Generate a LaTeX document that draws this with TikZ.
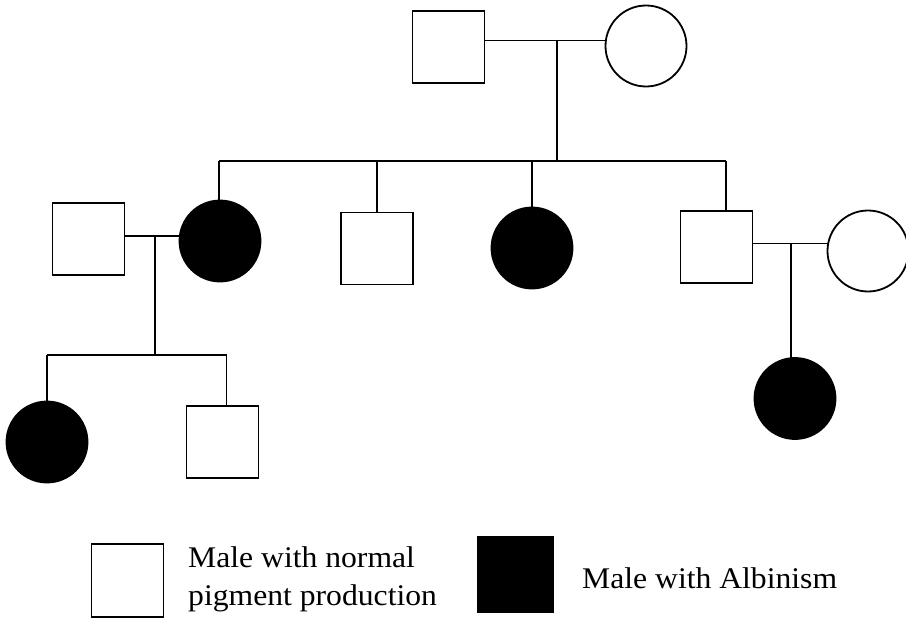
\documentclass[tikz,border=0pt]{standalone}
\usepackage{fontspec}
\setmainfont{Liberation Serif}
\usetikzlibrary{calc}

\tikzset{
  person/.style={draw=black, line width=1.8pt, inner sep=0pt, outer sep=0pt},
  male/.style={person, rectangle, minimum width=72pt, minimum height=72pt, fill=white},
  female/.style={person, circle, minimum size=81pt, fill=white},
  affected/.style={fill=black},
  link/.style={draw=black, line width=1.6pt},
  legendtext/.style={inner sep=0pt, anchor=base west, align=left,
    font=\fontsize{30}{38}\selectfont}
}

\begin{document}
\begin{tikzpicture}[x=1pt, y=-1pt]
  \useasboundingbox (0,0) rectangle (906,618);

  % generation I
  \node[male]   (gpm) at (448.5, 47) {};
  \node[female] (gpf) at (646, 46) {};
  \coordinate (mar1) at (557, 40.5);
  \coordinate (sib1) at (557, 161);
  \coordinate (sib1L) at (219, 161);
  \coordinate (sib1R) at (726, 161);

  % generation II
  \node[male]             (m1) at (88.5, 239) {};
  \node[female, affected] (p1) at (220, 241) {};
  \node[male]             (s2) at (377, 248.5) {};
  \node[female, affected] (d3) at (532, 248) {};
  \node[male]             (s4) at (716.5, 246.7) {};
  \node[female]           (w4) at (868, 251) {};
  \coordinate (mar2) at (155, 236);
  \coordinate (sib2) at (155, 355);
  \coordinate (sib2L) at (47, 355);
  \coordinate (sib2R) at (226.5, 355);
  \coordinate (mar3) at (791, 243.3);

  % generation III
  \node[female, affected] (c1) at (47, 442) {};
  \node[male]             (c2) at (222.5, 442) {};
  \node[female, affected] (c3) at (795, 398.5) {};

  % couple and sibship lines
  \draw[link] (gpm.east |- mar1) -- (gpf.west |- mar1);
  \draw[link] (mar1) -- (sib1);
  \draw[link] (sib1L) -- (sib1R);
  \draw[link] (sib1L) -- (sib1L |- p1.north);
  \draw[link] (s2.north |- sib1) -- (s2.north);
  \draw[link] (d3.north |- sib1) -- (d3.north);
  \draw[link] (sib1R) -- (sib1R |- s4.north);

  \draw[link] (m1.east |- mar2) -- (p1.west |- mar2);
  \draw[link] (mar2) -- (sib2);
  \draw[link] (sib2L) -- (sib2R);
  \draw[link] (sib2L) -- (c1.north);
  \draw[link] (sib2R) -- (sib2R |- c2.north);

  \draw[link] (s4.east |- mar3) -- (w4.west |- mar3);
  \draw[link] (mar3) -- (mar3 |- c3.north);

  % legend
  \node[male, minimum height=73pt] (keyn) at (127.5, 580.5) {};
  \node[legendtext] (keyntext) at (188, 567)
    {\scalebox{1.055}[1]{\begin{tabular}[t]{@{}l@{}}Male with normal\\pigment production\end{tabular}}};
  \node[person, rectangle, affected, minimum width=75pt, minimum height=75pt] (keya) at (515.5, 574.5) {};
  \node[legendtext] (keyatext) at (582, 588)
    {\scalebox{1.055}[1]{Male with Albinism}};
\end{tikzpicture}
\end{document}
